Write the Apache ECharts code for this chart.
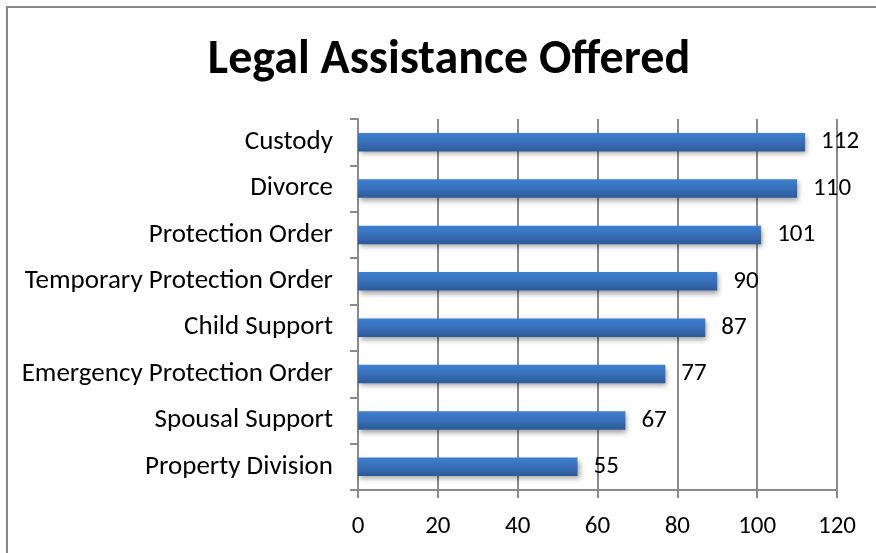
<!DOCTYPE html>
<html><head><meta charset="utf-8">
<script src="https://cdn.jsdelivr.net/npm/echarts@6/dist/echarts.min.js"></script>
<style>html,body{margin:0;padding:0;background:#fff}#c{width:876px;height:553px}</style>
</head><body><div id="c"></div>
<script>
const categories = ["Custody","Divorce","Protection Order","Temporary Protection Order","Child Support","Emergency Protection Order","Spousal Support","Property Division"];
const values = [112,110,101,90,87,77,67,55];
const xTicks = [0,20,40,60,80,100,120];
const FONT = "Carlito, Lato, 'Open Sans', sans-serif";
const chart = echarts.init(document.getElementById('c'));
chart.setOption({
  animation:false,
  backgroundColor:'#fff',
  title:{text:'Legal Assistance Offered',left:444,textAlign:'center',top:32,
    textStyle:{fontFamily:FONT,fontSize:48,fontWeight:'bold',color:'#000'}},
  graphic:[{type:'rect',shape:{x:7,y:7,width:900,height:600},style:{fill:null,stroke:'#878787',lineWidth:2}}],
  grid:{left:358,right:39,top:119,bottom:63,containLabel:false},
  xAxis:{type:'value',min:0,max:120,interval:20,
    axisLine:{show:true,lineStyle:{color:'#8a8a8a',width:2}},
    axisTick:{show:true,length:8,lineStyle:{color:'#8a8a8a',width:2}},
    splitLine:{show:true,lineStyle:{color:'#8a8a8a',width:2}},
    axisLabel:{fontFamily:FONT,fontSize:25,color:'#000',margin:24,
      formatter:v=>xTicks.includes(v)?String(v):''}},
  yAxis:{type:'category',data:categories,inverse:true,
    axisLine:{show:true,lineStyle:{color:'#8a8a8a',width:2}},
    axisTick:{show:true,length:8,alignWithLabel:false,lineStyle:{color:'#8a8a8a',width:2}},
    axisLabel:{fontFamily:FONT,fontSize:27,color:'#000',margin:25}},
  series:[{type:'bar',data:values,barCategoryGap:'60%',
    itemStyle:{color:new echarts.graphic.LinearGradient(0,0,0,1,[{offset:0,color:'#3d80d0'},{offset:0.5,color:'#386fb9'},{offset:1,color:'#2c5a98'}]),
      shadowColor:'rgba(0,0,0,0.35)',shadowBlur:5,shadowOffsetX:2,shadowOffsetY:3},
    label:{show:true,position:'right',distance:16,fontFamily:FONT,fontSize:25,color:'#000'}}]
});
</script></body></html>
